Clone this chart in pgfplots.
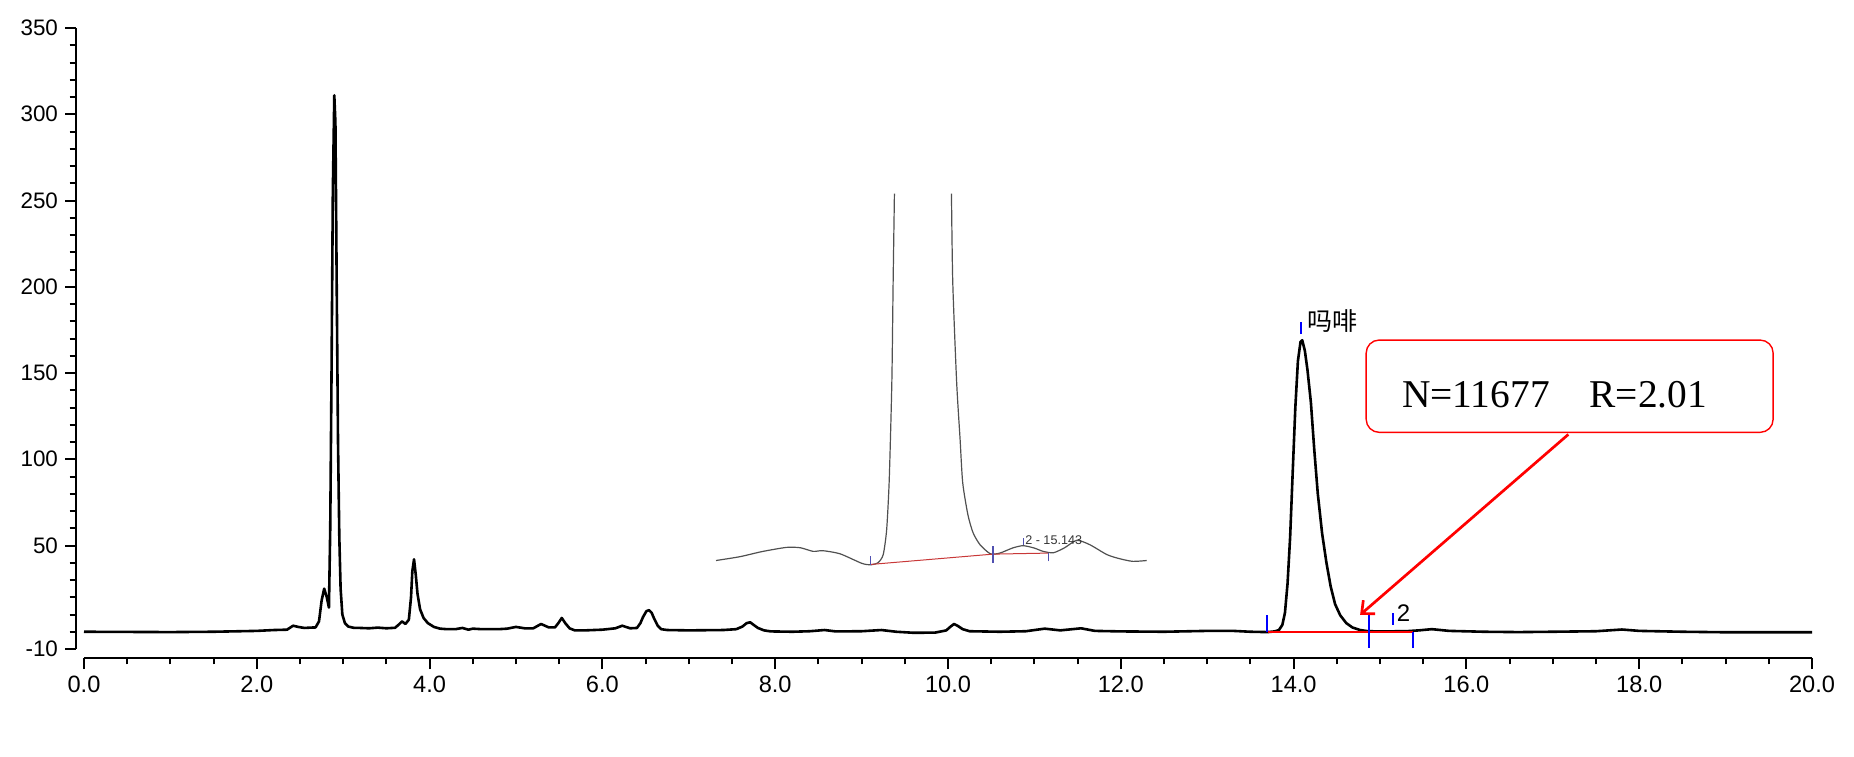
\documentclass[border=0pt]{standalone}
\usepackage{pgfplots}
\pgfplotsset{compat=1.18}
\usepackage{fontspec}
\setmainfont{Liberation Sans}
\newfontfamily\serif{Liberation Serif}
\newfontfamily\cjk{Noto Sans CJK SC}
\usetikzlibrary{arrows.meta}

\definecolor{insetgray}{HTML}{505050}
\definecolor{insetred}{HTML}{C83838}
\definecolor{insetblue}{HTML}{5050B0}

\begin{document}
\begin{tikzpicture}
\path[use as bounding box] (-42pt,-53.5pt) rectangle (885pt,324.5pt);
\begin{axis}[
    scale only axis, width=864pt, height=310.5pt,
    xmin=0, xmax=20, ymin=-10, ymax=350,
    axis lines=left,
    axis line style={-, line width=1.1pt},
    axis x line shift=4.5pt, axis y line shift=4pt,
    tick align=outside,
    major tick length=5.5pt, minor tick length=3.2pt,
    every tick/.style={black, line width=1pt},
    xtick={0,2,...,20},
    xticklabels={0.0,2.0,4.0,6.0,8.0,10.0,12.0,14.0,16.0,18.0,20.0},
    minor x tick num=3,
    ytick={-10,50,100,150,200,250,300,350},
    yticklabels={-10,50,100,150,200,250,300,350},
    minor ytick={0,10,...,340},
    x tick label style={font=\fontsize{11.8}{13}\selectfont},
    y tick label style={font=\fontsize{11.2}{12}\selectfont},
    clip=false,
]

% chromatogram
\addplot[black, line width=1.3pt, line join=round] coordinates {
(0.0,0.0)(0.5,-0.1)(1.0,-0.2)(1.5,0.0)(2.0,0.5)(2.2,1.0)(2.35,1.2)(2.42,3.5)(2.48,2.8)(2.55,2.2)(2.62,2.4)
(2.68,2.5)(2.72,6)(2.75,18)(2.78,25)(2.81,20)(2.835,14)(2.85,60)(2.865,150)(2.88,255)(2.897,311)(2.91,295)
(2.925,200)(2.94,110)(2.955,55)(2.97,25)(2.99,10)(3.02,5)(3.06,3)(3.12,2.3)(3.2,2.2)(3.3,2.0)(3.4,2.4)(3.5,2.0)
(3.60,2.3)(3.64,4)(3.68,6)(3.72,4.5)(3.76,7)(3.785,20)(3.80,35)(3.82,42)(3.84,33)(3.86,22)(3.89,13)(3.93,8)
(3.98,5)(4.05,2.8)(4.12,1.8)(4.2,1.5)(4.3,1.5)(4.38,2.2)(4.45,1.2)(4.5,1.8)(4.6,1.5)(4.8,1.5)(4.9,1.8)(5.0,2.8)
(5.1,2.0)(5.2,2.0)(5.29,4.5)(5.38,2.5)(5.45,2.5)(5.49,5)(5.53,8)(5.57,5)(5.62,2)(5.68,0.8)(5.8,0.8)(6.0,1.2)
(6.15,2)(6.23,3.5)(6.32,2)(6.40,2.2)(6.44,5)(6.47,8.5)(6.51,12)(6.54,12.5)(6.57,11)(6.60,7.5)(6.64,3.5)(6.68,1.5)
(6.75,1.0)(7.0,0.8)(7.4,1.0)(7.55,1.5)(7.62,3)(7.67,5)(7.71,5.5)(7.75,4)(7.80,2.2)(7.87,0.8)(7.95,0.2)(8.2,0.0)
(8.4,0.3)(8.57,1.0)(8.7,0.2)(9.0,0.3)(9.23,1.0)(9.4,0)(9.6,-0.6)(9.85,-0.5)(9.98,0.8)(10.03,3)(10.07,4.5)
(10.11,3.5)(10.17,1.5)(10.25,0.3)(10.6,0)(10.9,0.3)(11.12,1.8)(11.3,0.8)(11.54,2.0)(11.7,0.5)(12.0,0.2)
(12.5,0.0)(13.0,0.5)(13.3,0.5)(13.5,0.0)(13.70,-0.2)(13.78,0.2)(13.83,1.0)(13.87,4)(13.90,11)(13.93,28)
(13.96,55)(13.99,93)(14.02,130)(14.05,157)(14.08,168)(14.10,169)(14.13,163)(14.16,152)(14.20,133)(14.24,105)
(14.28,80)(14.33,57)(14.38,40)(14.43,26)(14.48,16)(14.54,9.5)(14.61,5)(14.68,2.5)(14.77,1)(14.85,0.4)
(14.95,0.2)(15.3,0.3)(15.45,0.8)(15.6,1.5)(15.8,0.5)(16.2,0.0)(16.6,-0.2)(17.0,0.0)(17.5,0.3)(17.8,1.3)
(18.0,0.5)(18.5,0.0)(19.0,-0.3)(19.5,-0.3)(20.0,-0.3)
};

% inset (zoomed view of the morphine peak)
\addplot[insetgray, line width=0.6pt, smooth, tension=0.4] coordinates {
(7.315,41.3)(7.59,43.5)(7.85,46.5)(8.13,48.9)(8.29,48.7)(8.44,46.6)(8.55,47.0)(8.75,45.2)(9.00,39.7)(9.10,38.8)
(9.19,40.0)(9.25,44.7)(9.29,59.2)(9.32,88.3)(9.35,144.7)(9.365,202.8)(9.38,254)
};
\addplot[insetgray, line width=0.6pt, smooth, tension=0.4] coordinates {
(10.04,254)(10.055,202.8)(10.10,144.7)(10.14,111.5)(10.17,86.5)(10.23,67.9)(10.29,57.4)(10.37,50.5)(10.49,45.2)
(10.60,45.6)(10.75,48.6)(10.87,49.9)(11.00,48.5)(11.10,46.6)(11.22,45.8)(11.35,48.7)(11.49,53.0)(11.64,50.5)
(11.84,44.7)(11.99,42.3)(12.14,40.8)(12.30,41.3)
};
\draw[insetred, line width=0.5pt] (axis cs:9.10,39.0) -- (axis cs:10.52,45.0) -- (axis cs:11.16,45.6);
\draw[insetblue, line width=0.6pt] (axis cs:9.10,38.8) -- (axis cs:9.10,44.1);
\draw[insetblue, line width=0.6pt] (axis cs:10.52,39.8) -- (axis cs:10.52,49.5);
\draw[insetblue, line width=0.6pt] (axis cs:11.16,40.8) -- (axis cs:11.16,45.6);
\draw[insetblue, line width=0.6pt] (axis cs:10.87,50.5) -- (axis cs:10.87,54.4);
\node[anchor=west, inner sep=0pt, text=black!80, font=\fontsize{6.3}{7}\selectfont] at (axis cs:10.89,53.3) {2 - 15.143};

% integration marks
\draw[red, line width=1pt] (axis cs:13.70,0) -- (axis cs:15.38,0);
\draw[blue, line width=1pt] (axis cs:13.69,-0.3) -- (axis cs:13.69,9.8);
\draw[blue, line width=1pt] (axis cs:14.87,-9.4) -- (axis cs:14.87,11);
\draw[blue, line width=1pt] (axis cs:15.38,-9.5) -- (axis cs:15.38,0);
\draw[blue, line width=1pt] (axis cs:15.15,4) -- (axis cs:15.15,11);
\draw[blue, line width=1pt] (axis cs:14.09,172.6) -- (axis cs:14.09,179.5);
\node[anchor=west, inner sep=0pt, font=\cjk\fontsize{12.5}{13}\selectfont] at (axis cs:14.16,180.3) {吗啡};
\node[anchor=base west, inner sep=0pt, font=\fontsize{12}{13}\selectfont] at (axis cs:15.19,5.7) {2};

% callout
\draw[red, line width=0.7pt, rounded corners=6.5pt] (axis cs:14.84,115.6) rectangle (axis cs:19.55,169.1);
\node[anchor=base west, inner sep=0pt, font=\serif\fontsize{19.7}{22}\selectfont] at (axis cs:15.25,130) {N=11677\hspace{20pt}R=2.01};
\draw[red, line width=1.35pt, -{Straight Barb[length=5pt, width=9pt]}] (axis cs:17.18,114.4) -- (axis cs:14.77,9.8);
\end{axis}
\end{tikzpicture}
\end{document}
